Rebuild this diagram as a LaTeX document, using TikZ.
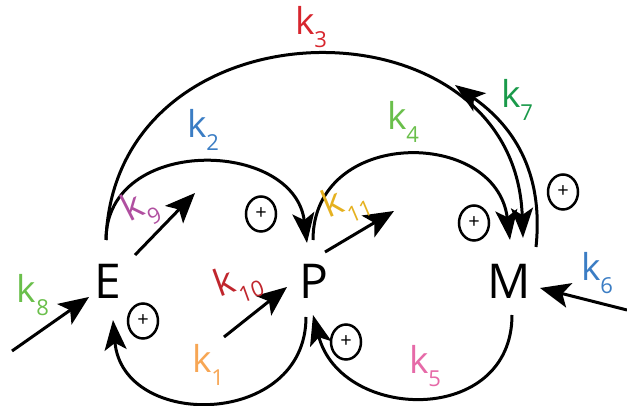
\documentclass[tikz,border=0pt]{standalone}
\usepackage{fontspec}
\setmainfont{Open Sans}
\usetikzlibrary{arrows.meta,calc,shapes.geometric}
\definecolor{cred}{HTML}{D7262E}
\definecolor{cblue}{HTML}{3B7DC4}
\definecolor{clgreen}{HTML}{6ABF4B}
\definecolor{cdgreen}{HTML}{1A9A4A}
\definecolor{cmagenta}{HTML}{B04FA0}
\definecolor{cgold}{HTML}{E5B120}
\definecolor{cdred}{HTML}{C0262D}
\definecolor{corange}{HTML}{F7A654}
\definecolor{cpink}{HTML}{E66AA8}
\newcommand{\kk}[1]{k\raisebox{-13pt}{\fontsize{22}{22}\selectfont #1}}
\begin{document}
\begin{tikzpicture}[x=1pt,y=1pt,
  species/.style={circle,minimum size=76pt,inner sep=0pt,font=\fontsize{48}{48}\selectfont},
  flow/.style={line width=3pt,-{Stealth[length=30pt,width=22pt,inset=7pt]}},
  straightflow/.style={line width=3pt,-{Stealth[length=30pt,width=25pt,inset=7pt]}},
  plus/.style={ellipse,draw,line width=2.5pt,minimum width=30pt,minimum height=35pt,inner sep=0pt,font=\fontsize{20}{20}\selectfont},
  rate/.style={font=\fontsize{37}{37}\selectfont,inner sep=0pt}]
\useasboundingbox (0,0) rectangle (627,406);
\node[species] (E) at (108,125) {E};
\node[species] (P) at (314,125) {P};
\node[species] (M) at (509,125) {M};
% arcs
\draw[flow] ($(E)+(-2,41)$) to[out=90,in=97,distance=105pt] ($(P)+(-7,38)$);
\draw[flow] ($(E)+(-2,41)$) to[out=88,in=92,distance=245pt] ($(M)+(14,43)$);
\draw[flow] ($(P)+(-1,41)$) to[out=90,in=97,distance=113pt] ($(M)+(1,41)$);
\coordinate (k7end) at (455,321);
\draw[flow] ($(M)+(27,34)$) to[out=84,in=-35,out distance=85pt,in distance=60pt] (k7end);
\draw[flow] ($(P)+(-8,-36)$) to[out=-90,in=-85,distance=111pt] ($(E)+(5,-39)$);
\draw[flow] ($(M)+(3,-34)$) to[out=-90,in=-75,distance=111pt] ($(P)+(-1,-34)$);
% straight arrows
\coordinate (k8s) at (12,55);
\draw[straightflow] (k8s) -- ($(E)+(-19,-16)$);
\coordinate (k9e) at (195,213);
\draw[straightflow] ($(E)+(27,26)$) -- (k9e);
\coordinate (k10s) at (224,69);
\draw[straightflow] (k10s) -- ($(P)+(-27,-6)$);
\coordinate (k11e) at (394,195);
\draw[straightflow] ($(P)+(11,29)$) -- (k11e);
\coordinate (k6s) at (627,96);
\draw[straightflow] (k6s) -- ($(M)+(31,-7)$);
% plus signs
\node[plus] (pl1) at (143,85) {+};
\node[plus] (pl2) at (261,192) {+};
\node[plus] (pl3) at (474,183) {+};
\node[plus] (pl4) at (563,214) {+};
\node[plus] (pl5) at (346,64) {+};
% rate labels
\node[rate,text=cred] (l3) at (311,379) {\kk{3}};
\node[rate,text=cblue] (l2) at (203,276) {\kk{2}};
\node[rate,text=clgreen] (l4) at (403,284) {\kk{4}};
\node[rate,text=cdgreen] (l7) at (517,306) {\kk{7}};
\node[rate,text=cmagenta,rotate=27] (l9) at (140,197) {\kk{9}};
\node[rate,text=cgold,rotate=23] (l11) at (346,203) {\kk{11}};
\node[rate,text=cdred,rotate=20] (l10) at (238,123) {\kk{10}};
\node[rate,text=clgreen] (l8) at (33,111) {\kk{8}};
\node[rate,text=corange] (l1) at (208,41) {\kk{1}};
\node[rate,text=cpink] (l5) at (425,40) {\kk{5}};
\node[rate,text=cblue] (l6) at (597,133) {\kk{6}};
\end{tikzpicture}
\end{document}
